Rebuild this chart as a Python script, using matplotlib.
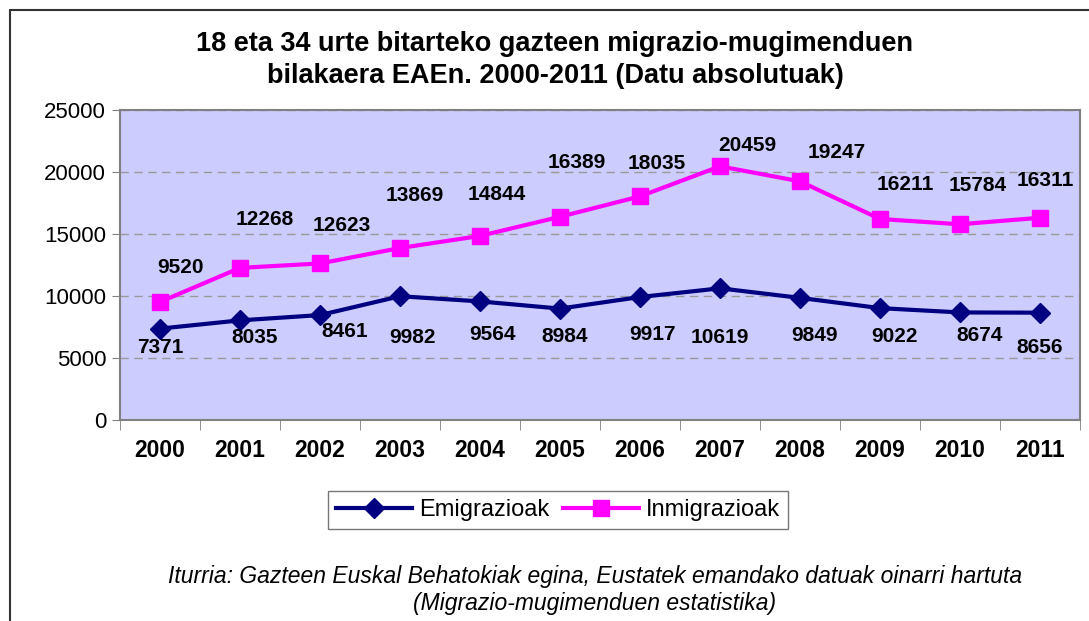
import numpy as np
import matplotlib.pyplot as plt
from matplotlib.patches import Rectangle

plt.rcParams['font.family'] = ['Liberation Sans', 'DejaVu Sans']

# --- Data ---
years = ['2000', '2001', '2002', '2003', '2004', '2005',
         '2006', '2007', '2008', '2009', '2010', '2011']
emigrazioak = [7371, 8035, 8461, 9982, 9564, 8984, 9917, 10619, 9849, 9022, 8674, 8656]
inmigrazioak = [9520, 12268, 12623, 13869, 14844, 16389, 18035, 20459, 19247, 16211, 15784, 16311]

# label offsets in pixels (dx, dy) relative to the marker
emig_off = [(0, -19), (15, -17), (25, -16), (12, -41), (12, -33), (5, -28),
            (12, -37), (0, -49), (15, -38), (15, -28), (20, -23), (0, -35)]
inmig_off = [(20, 34), (25, 48), (22, 38), (15, 53), (17, 41), (17, 54),
             (17, 33), (27, 21), (37, 29), (25, 34), (18, 39), (5, 37)]

fig = plt.figure(figsize=(10.89, 6.21), dpi=100)
ax = fig.add_axes([120 / 1089, 1 - 420 / 621, 960 / 1089, 310 / 621])
ax.set_facecolor('#CCCCFF')

x = np.arange(len(years))
ax.plot(x, emigrazioak, color='#000080', lw=3, marker='D', ms=10, label='Emigrazioak')
ax.plot(x, inmigrazioak, color='#FF00FF', lw=3, marker='s', ms=11, label='Inmigrazioak')

for xi, v, (dx, dy) in zip(x, emigrazioak, emig_off):
    ax.annotate(str(v), (xi, v), xytext=(dx, dy), textcoords='offset pixels',
                ha='center', va='center', fontsize=15, fontweight='bold')
for xi, v, (dx, dy) in zip(x, inmigrazioak, inmig_off):
    ax.annotate(str(v), (xi, v), xytext=(dx, dy), textcoords='offset pixels',
                ha='center', va='center', fontsize=15, fontweight='bold')

ax.set_xlim(-0.5, len(years) - 0.5)
ax.set_ylim(0, 25000)
ax.set_yticks(range(0, 25001, 5000))
ax.tick_params(axis='y', labelsize=16, length=6, color='#808080', pad=4)
ax.set_xticks(x)
ax.set_xticklabels(years, fontsize=16.5, fontweight='bold')
ax.set_xticks(np.arange(-0.5, len(years)), minor=True)
ax.tick_params(axis='x', which='major', length=0, pad=14)
ax.tick_params(axis='x', which='minor', length=7, color='#808080', direction='out')
ax.grid(axis='y', color='#999999', ls=(0, (6, 4)), lw=1)
for s in ax.spines.values():
    s.set_color('#808080')
    s.set_linewidth(1.5)

fig.text(555 / 1089, 1 - 60 / 621,
         '18 eta 34 urte bitarteko gazteen migrazio-mugimenduen\nbilakaera EAEn. 2000-2011 (Datu absolutuak)',
         ha='center', va='center', fontsize=19.5, fontweight='bold', linespacing=1.28)

fig.legend(loc='center', bbox_to_anchor=(558 / 1089, 1 - 510 / 621), ncol=2,
           fontsize=17, frameon=True, fancybox=False, edgecolor='#555555',
           handlelength=3.2, handletextpad=0.3, columnspacing=0.6, borderpad=0.35)

fig.text(595 / 1089, 1 - 590 / 621,
         'Iturria: Gazteen Euskal Behatokiak egina, Eustatek emandako datuak oinarri hartuta\n(Migrazio-mugimenduen estatistika)',
         ha='center', va='center', fontsize=16.5, style='italic', linespacing=1.22)

fig.add_artist(Rectangle((10 / 1089, -0.05), 1.2, 1 - 10 / 621 + 0.05,
                         transform=fig.transFigure, fill=False,
                         edgecolor='#333333', lw=1.5))

fig.savefig('out.png', dpi=100)
